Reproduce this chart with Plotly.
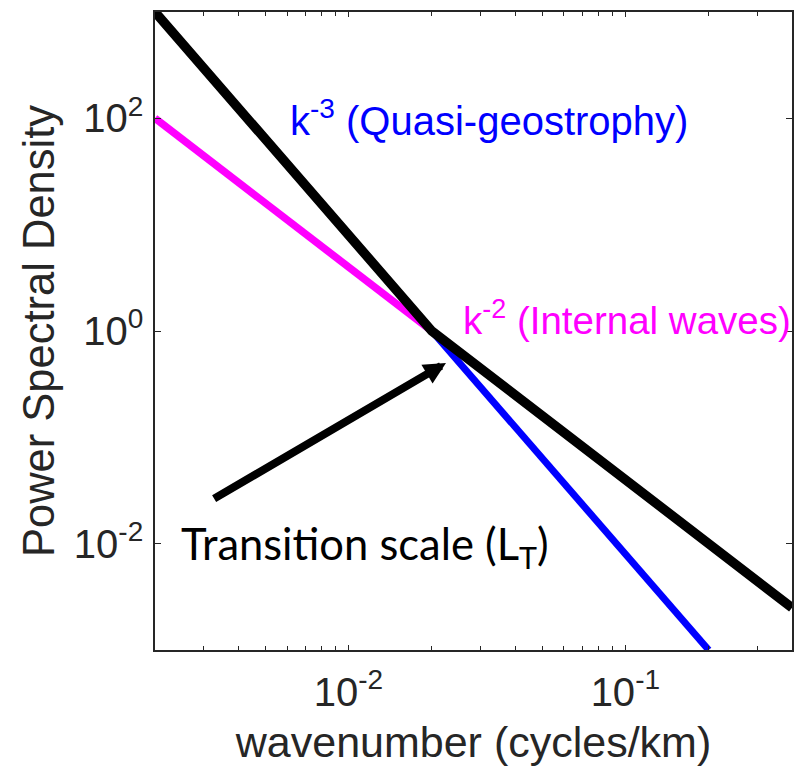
import math
import plotly.graph_objects as go

# Schematic spectra (wavenumber in cycles/km, PSD normalised to 1 at the transition)
k_total = [0.002, 0.02, 0.4]
psd_total = [1000.0, 1.0, 0.0025]

k_iw = [0.002, 0.02]
psd_iw = [100.0, 1.0]

k_qg = [0.02, 0.2]
psd_qg = [1.0, 0.001]

x_tickvals = [0.01, 0.1]
x_ticktext = ["10<sup>-2</sup>", "10<sup>-1</sup>"]
x_minor = [0.003, 0.004, 0.005, 0.006, 0.007, 0.008, 0.009,
           0.02, 0.03, 0.04, 0.05, 0.06, 0.07, 0.08, 0.09, 0.2, 0.3]
y_tickvals = [0.01, 1, 100]
y_ticktext = ["10<sup>-2</sup>", "10<sup>0</sup>", "10<sup>2</sup>"]

# Arrow pointing at the transition scale (tail, tip)
arrow_tail = (0.00323, 0.026)
arrow_tip = (0.0225, 0.50)

AX = "#262626"
FONT = "Liberation Sans, Arial, Helvetica, sans-serif"

fig = go.Figure()
fig.add_trace(go.Scatter(x=k_iw, y=psd_iw, mode="lines",
                         line=dict(color="#ff00ff", width=7.5), showlegend=False))
fig.add_trace(go.Scatter(x=k_qg, y=psd_qg, mode="lines",
                         line=dict(color="#0000ff", width=7), showlegend=False))
fig.add_trace(go.Scatter(x=k_total, y=psd_total, mode="lines",
                         line=dict(color="#000000", width=9.5), showlegend=False))

fig.add_annotation(x=math.log10(arrow_tip[0]), y=math.log10(arrow_tip[1]),
                   ax=math.log10(arrow_tail[0]), ay=math.log10(arrow_tail[1]),
                   xref="x", yref="y", axref="x", ayref="y", text="",
                   showarrow=True, arrowhead=2, arrowwidth=8, arrowsize=0.55,
                   arrowcolor="#000000", standoff=0)

fig.add_annotation(x=math.log10(0.00255), y=math.log10(0.0101), xref="x", yref="y",
                   xshift=-5, yshift=-3,
                   text="Transition scale (L<sub>T</sub>)", showarrow=False,
                   xanchor="left", yanchor="middle",
                   font=dict(family="Lato, Carlito, sans-serif", size=43.5, color="#000000"))
fig.add_annotation(x=math.log10(0.00603), y=math.log10(78), xref="x", yref="y",
                   yshift=12,
                   text="k<sup>-3</sup> (Quasi-geostrophy)", showarrow=False,
                   xanchor="left", yanchor="middle",
                   font=dict(family=FONT, size=40, color="#0000ff"))
fig.add_annotation(x=math.log10(0.02553), y=math.log10(0.95), xref="x", yref="y",
                   yshift=15,
                   text="k<sup>-2</sup> (Internal waves)", showarrow=False,
                   xanchor="left", yanchor="middle",
                   font=dict(family=FONT, size=38.5, color="#ff00ff"))

fig.update_xaxes(type="log", range=[math.log10(0.002), math.log10(0.4)],
                 tickmode="array", tickvals=x_tickvals, ticktext=x_ticktext,
                 ticks="inside", ticklen=5, tickwidth=1.2, tickcolor=AX,
                 ticklabelstandoff=6,
                 minor=dict(tickmode="array", tickvals=x_minor, ticks="inside",
                            ticklen=4, tickwidth=1.2, tickcolor=AX, showgrid=False),
                 showline=True, linecolor=AX, linewidth=1.5, mirror="ticks",
                 showgrid=False, zeroline=False,
                 tickfont=dict(family=FONT, size=40, color=AX),
                 title=dict(text="wavenumber (cycles/km)", standoff=14,
                            font=dict(family=FONT, size=43, color=AX)))
fig.update_yaxes(type="log", range=[-3, 3],
                 tickmode="array", tickvals=y_tickvals, ticktext=y_ticktext,
                 ticks="inside", ticklen=6, tickwidth=1.2, tickcolor=AX,
                 ticklabelstandoff=2,
                 showline=True, linecolor=AX, linewidth=1.5, mirror="ticks",
                 showgrid=False, zeroline=False,
                 tickfont=dict(family=FONT, size=40, color=AX),
                 title=dict(text="Power Spectral Density", standoff=6,
                            font=dict(family=FONT, size=43.5, color=AX)))

fig.update_layout(width=803, height=768,
                  margin=dict(l=155, r=11, t=12, b=118, autoexpand=False),
                  plot_bgcolor="#ffffff", paper_bgcolor="#ffffff")

fig.write_html("out.html")
